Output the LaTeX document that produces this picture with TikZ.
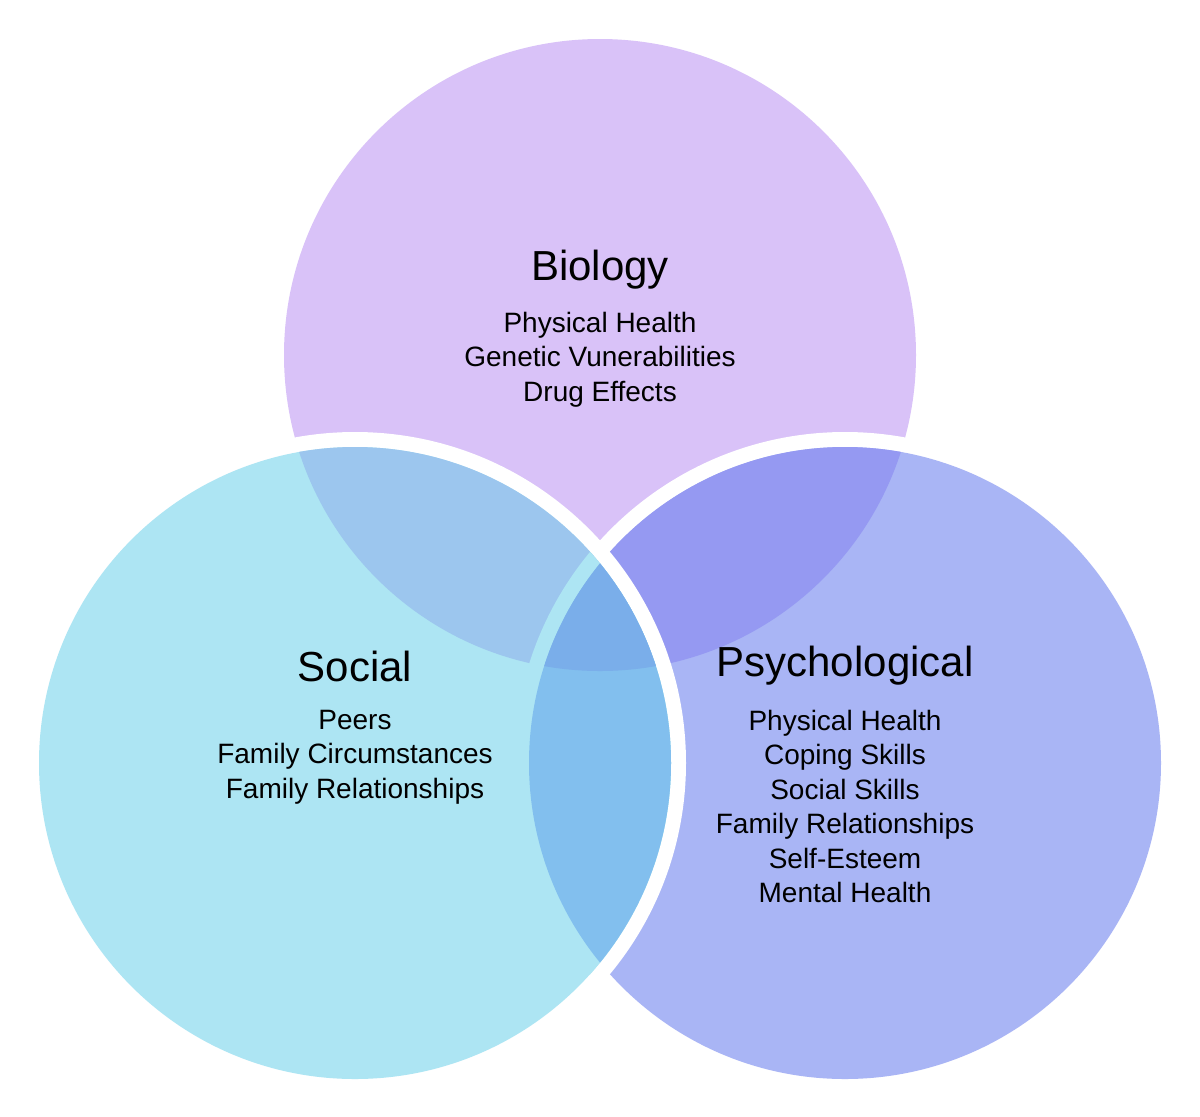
\documentclass[tikz,border=0pt]{standalone}
\usepackage{fontspec}
\setmainfont{Liberation Sans}
\definecolor{bio}{HTML}{D9C2F8}
\definecolor{psy}{HTML}{A9B5F5}
\definecolor{soc}{HTML}{ADE5F3}
\definecolor{bp}{HTML}{9599F2}
\definecolor{bs}{HTML}{9CC6EE}
\definecolor{sp}{HTML}{82BFEE}
\definecolor{bsp}{HTML}{7AAEEA}
\begin{document}
\begin{tikzpicture}[x=0.5pt,y=-0.5pt,
  ttl/.style={font=\fontsize{21}{25}\selectfont,anchor=center},
  itm/.style={font=\fontsize{14}{17.25}\selectfont,align=center,anchor=north}]
\useasboundingbox[fill=white] (0,0) rectangle (1200,1116);
\def\R{316}\def\Rb{331}
\coordinate (B) at (600,355);
\coordinate (S) at (355,763);
\coordinate (P) at (845,763);
% biology
\fill[bio] (B) circle[radius=\R];
% psychological
\fill[white] (P) circle[radius=\Rb];
\fill[psy] (P) circle[radius=\R];
\begin{scope}\clip (B) circle[radius=\R];\fill[bp] (P) circle[radius=\R];\end{scope}
% social
\fill[white] (S) circle[radius=\Rb];
\fill[soc] (S) circle[radius=\R];
\begin{scope}
  \clip (S) circle[radius=\R];
  \fill[bs] (B) circle[radius=\R];
  \fill[soc] (P) circle[radius=\Rb];
  \fill[sp] (P) circle[radius=\R];
  \clip (B) circle[radius=\R];
  \fill[bsp] (P) circle[radius=\R];
\end{scope}
% texts
\node[ttl] (tb) at (600,270) {Biology};
\node[itm] (ib) at (600,305) {Physical Health\\Genetic Vunerabilities\\Drug Effects};
\node[ttl] (ts) at (355,666) {Social};
\node[itm] (is) at (355,703) {Peers\\Family Circumstances\\Family Relationships};
\node[ttl] (tp) at (845,666) {Psychological};
\node[itm] (ip) at (845,703) {Physical Health\\Coping Skills\\Social Skills\\Family Relationships\\Self-Esteem\\Mental Health};
\end{tikzpicture}
\end{document}
